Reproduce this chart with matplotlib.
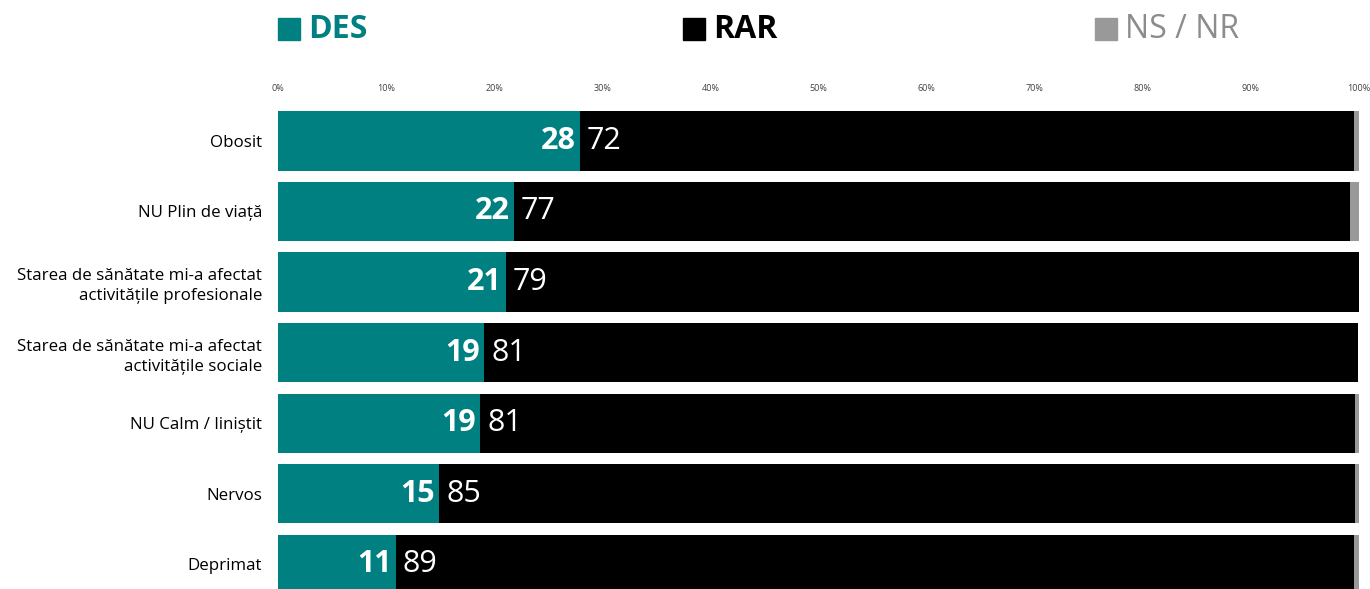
import matplotlib.pyplot as plt
from matplotlib.patches import Rectangle

categories = ['Obosit', 'NU Plin de viață',
              'Starea de sănătate mi-a afectat\nactivitățile profesionale',
              'Starea de sănătate mi-a afectat\nactivitățile sociale',
              'NU Calm / liniștit', 'Nervos', 'Deprimat']
des = [27.9, 21.8, 21.1, 19.1, 18.7, 14.9, 10.9]
rar = [71.6, 77.4, 78.9, 80.8, 80.9, 84.7, 88.6]
ns = [0.5, 0.8, 0.0, 0.0, 0.4, 0.4, 0.5]
des_lbl = [28, 22, 21, 19, 19, 15, 11]
rar_lbl = [72, 77, 79, 81, 81, 85, 89]
ticks = list(range(0, 101, 10))

TEAL = '#008080'
GREY = '#999999'
plt.rcParams['font.family'] = ['Open Sans', 'DejaVu Sans']

W, H = 1370, 589
fig = plt.figure(figsize=(W / 100, H / 100), dpi=100)
ax = fig.add_axes([278 / W, 0, (1359 - 278) / W, 1 - 100 / H])

y = list(range(len(categories)))
left2 = [a + b for a, b in zip(des, rar)]
ax.barh(y, des, height=0.84, color=TEAL)
ax.barh(y, rar, left=des, height=0.84, color='black')
ax.barh(y, ns, left=left2, height=0.84, color=GREY)

for i in y:
    ax.annotate(str(des_lbl[i]), (des[i], i), xytext=(-3, 0), textcoords='offset points',
                ha='right', va='center', color='white', fontsize=22, fontweight='bold')
    ax.annotate(str(rar_lbl[i]), (des[i], i), xytext=(5, 0), textcoords='offset points',
                ha='left', va='center', color='white', fontsize=22)

ax.set_xlim(0, 100)
ax.set_ylim(6.35, -0.58)
ax.xaxis.tick_top()
ax.set_xticks(ticks)
ax.set_xticklabels([f'{t}%' for t in ticks], fontsize=6.5, color='#404040')
ax.set_yticks(y)
ax.set_yticklabels(categories, fontsize=12.2, color='black', linespacing=1.35)
ax.tick_params(axis='x', length=0, pad=5)
ax.tick_params(axis='y', length=0, pad=11.5)
for s in ax.spines.values():
    s.set_visible(False)

# legend
legend = [(278, 'DES', TEAL, TEAL, 'bold'), (683, 'RAR', 'black', 'black', 'bold'),
          (1095, 'NS / NR', GREY, '#8c8c8c', 'normal')]
for x0, txt, fc, tc, fw in legend:
    fig.patches.append(Rectangle((x0 / W, 1 - 40 / H), 22 / W, 22 / H,
                                 transform=fig.transFigure, color=fc))
    fig.text((x0 + 30) / W, 1 - 30 / H, txt, color=tc, fontsize=23, fontweight=fw,
             ha='left', va='center')

fig.savefig('out.png', dpi=100)
